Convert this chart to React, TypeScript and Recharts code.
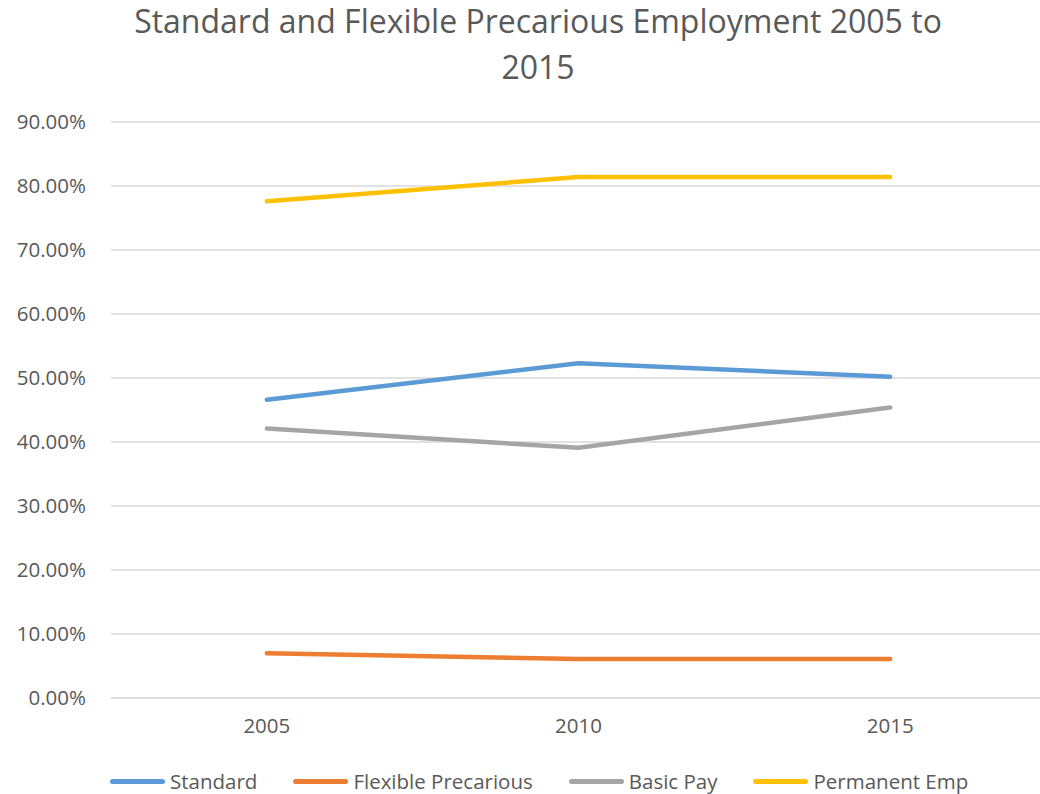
import React from 'react';
import { LineChart, Line, XAxis, YAxis, CartesianGrid } from 'recharts';

const years = ['2005', '2010', '2015'];
const standard = [0.466, 0.523, 0.502];
const flexiblePrecarious = [0.07, 0.061, 0.061];
const basicPay = [0.421, 0.391, 0.454];
const permanentEmp = [0.776, 0.814, 0.814];
const yTicks = [0, 0.1, 0.2, 0.3, 0.4, 0.5, 0.6, 0.7, 0.8, 0.9];

const series = [
  { key: 'standard', name: 'Standard', color: '#5B9BD5' },
  { key: 'flexible', name: 'Flexible Precarious', color: '#ED7D31' },
  { key: 'basic', name: 'Basic Pay', color: '#A5A5A5' },
  { key: 'permanent', name: 'Permanent Emp', color: '#FFC000' },
];

const data = years.map((year, i) => ({
  year,
  standard: standard[i],
  flexible: flexiblePrecarious[i],
  basic: basicPay[i],
  permanent: permanentEmp[i],
}));

const FONT = '"Open Sans", "Noto Sans", sans-serif';
const TEXT = '#595959';

export default function App() {
  return (
    <div style={{ position: 'absolute', left: 0, top: 0, width: 1040, height: 794, overflow: 'hidden', background: '#fff', fontFamily: FONT }}>
      <div
        style={{
          position: 'absolute',
          left: 0,
          top: -2,
          width: 1076,
          textAlign: 'center',
          fontSize: 32,
          lineHeight: '46px',
          color: TEXT,
        }}
      >
        Standard and Flexible Precarious Employment 2005 to
        <br />
        2015
      </div>
      <LineChart width={1040} height={794} data={data} margin={{ top: 122, right: -6, bottom: 56, left: 11 }}>
        <CartesianGrid horizontal vertical={false} stroke="#d9d9d9" strokeWidth={1.5} />
        <XAxis
          dataKey="year"
          scale="band"
          tickLine={false}
          axisLine={{ stroke: '#d9d9d9', strokeWidth: 1.5 }}
          tick={{ fontSize: 20.5, fill: TEXT, fontFamily: FONT }}
          tickMargin={14}
          height={40}
        />
        <YAxis
          domain={[0, 0.9]}
          ticks={yTicks}
          tickFormatter={(v: number) => (v * 100).toFixed(2) + '%'}
          tickLine={false}
          axisLine={false}
          tick={{ fontSize: 20.5, fill: TEXT, fontFamily: FONT }}
          tickMargin={19}
          width={100}
        />
        {series.map(s => (
          <Line
            key={s.key}
            dataKey={s.key}
            name={s.name}
            stroke={s.color}
            strokeWidth={4.5}
            strokeLinecap="round"
            dot={false}
            isAnimationActive={false}
          />
        ))}
      </LineChart>
      <div style={{ position: 'absolute', left: 110, top: 767, display: 'flex', alignItems: 'center', fontSize: 20.5, color: TEXT }}>
        {series.map(s => (
          <div key={s.key} style={{ display: 'flex', alignItems: 'center', marginRight: 36 }}>
            <div style={{ width: 55, height: 5, borderRadius: 3, background: s.color, marginRight: 5 }} />
            <span>{s.name}</span>
          </div>
        ))}
      </div>
    </div>
  );
}
